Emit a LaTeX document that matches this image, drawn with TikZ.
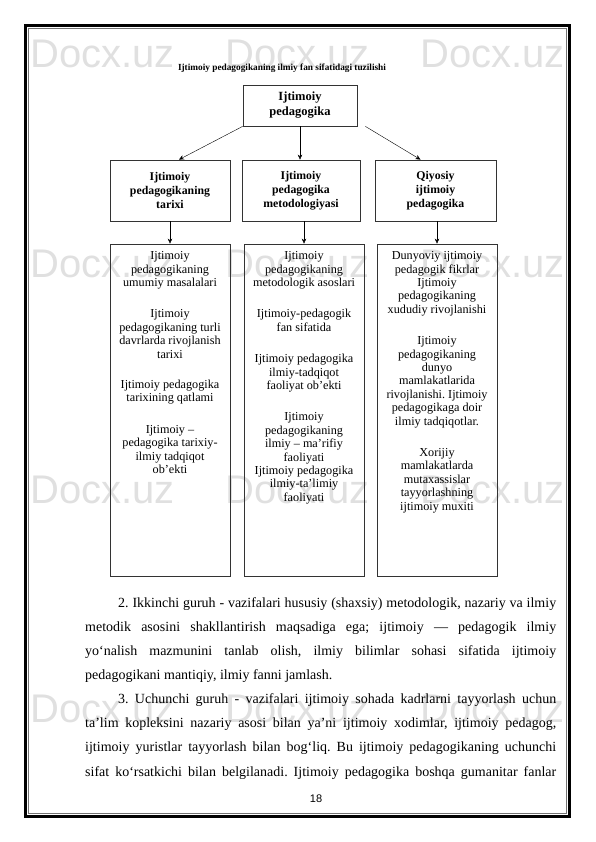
\documentclass[tikz,border=0pt]{standalone}
\usepackage{fontspec}
\setmainfont{Liberation Serif}
\newfontfamily\pagesans{Liberation Sans}
\usetikzlibrary{arrows.meta}
\frenchspacing

\tikzset{
  headbox/.style={draw=black!80,line width=0.8pt,inner sep=0pt,align=center,
    minimum width=120pt,minimum height=61pt,font=\bfseries\fontsize{11.8}{14}\selectfont},
  listbox/.style={draw=black!80,line width=0.8pt,inner sep=0pt,
    minimum width=120pt,minimum height=332pt},
  listtext/.style={anchor=north,inner sep=0pt,align=center,font=\fontsize{12.2}{13.4}\selectfont},
  wmark/.style={anchor=base west,inner sep=0pt,text=black!12,font=\pagesans\fontsize{40}{40}\selectfont},
  textline/.style={anchor=base west,inner sep=0pt,font=\fontsize{14}{17}\selectfont}
}

\begin{document}
\begin{tikzpicture}[x=1pt,y=-1pt,>={Stealth[length=5pt,width=4.5pt]}]
  \useasboundingbox (0,0) rectangle (595,842);
  \foreach \wy in {68,277,503,722}
    \foreach \wx in {30,225,420}
      \node[wmark] (wm-\wx-\wy) at (\wx,\wy) {Docx.uz};
  \draw[line width=3.2pt] (25.5,25.5) rectangle (569.5,816.5);
  \draw[black!55,line width=0.9pt] (28.3,28.3) rectangle (566.5,813.8);

  \node[font=\bfseries\fontsize{9.3}{11}\selectfont] (title) at (282,68) {Ijtimoiy pedagogikaning ilmiy fan sifatidagi tuzilishi};
  \node[headbox,minimum width=114pt,minimum height=41pt,font=\bfseries\fontsize{12.5}{15}\selectfont] (top) at (300,105.5) {Ijtimoiy\\pedagogika};

  \node[headbox] (tarix) at (170,190.5) {Ijtimoiy\\pedagogikaning\\tarixi};
  \node[headbox,minimum width=118pt] (metod) at (301,190.5) {Ijtimoiy\\pedagogika\\metodologiyasi};
  \node[headbox,minimum width=121pt] (qiyos) at (435.5,190.5) {Qiyosiy\\ijtimoiy\\pedagogika};

  \draw[->] (top.south west) -- ([xshift=9pt]tarix.north);
  \draw[->] (top.south) -- (top.south |- metod.north);
  \draw[->] ([xshift=8pt]top.south east) -- ([xshift=-15pt]qiyos.north);

  \node[listbox] (tarixlist) at (170,410) {};
  \node[listbox] (metodlist) at (304,410) {};
  \node[listbox] (qiyoslist) at (437,410) {};

  \draw[->] (tarixlist.north |- tarix.south) -- (tarixlist.north);
  \draw[->] (metodlist.north |- metod.south) -- (metodlist.north);
  \draw[->] (qiyoslist.north |- qiyos.south) -- (qiyoslist.north);

  \node[listtext] (tarixtext) at (170,251.5) {Ijtimoiy\\pedagogikaning\\umumiy masalalari\\[18pt]
    Ijtimoiy\\pedagogikaning turli\\davrlarda rivojlanish\\tarixi\\[17pt]
    Ijtimoiy pedagogika\\tarixining qatlami\\[18pt]
    Ijtimoiy –\\pedagogika tarixiy-\\ilmiy tadqiqot\\ob’ekti};
  \node[listtext] (metodtext) at (304,251.5) {Ijtimoiy\\pedagogikaning\\metodologik asoslari\\[18pt]
    Ijtimoiy-pedagogik\\fan sifatida\\[18pt]
    Ijtimoiy pedagogika\\ilmiy-tadqiqot\\faoliyat ob’ekti\\[18pt]
    Ijtimoiy\\pedagogikaning\\ilmiy – ma’rifiy\\faoliyati\\
    Ijtimoiy pedagogika\\ilmiy-ta’limiy\\faoliyati};
  \node[listtext] (qiyostext) at (437,251.5) {Dunyoviy ijtimoiy\\pedagogik fikrlar\\Ijtimoiy\\pedagogikaning\\xududiy rivojlanishi\\[18pt]
    Ijtimoiy\\pedagogikaning\\dunyo\\mamlakatlarida\\rivojlanishi. Ijtimoiy\\pedagogikaga doir\\ilmiy tadqiqotlar.\\[18pt]
    Xorijiy\\mamlakatlarda\\mutaxassislar\\tayyorlashning\\ijtimoiy muxiti};

  \node[textline] (l1) at (118,607) {\makebox[438pt][s]{2. Ikkinchi guruh - vazifalari hususiy (shaxsiy) metodologik, nazariy va ilmiy}};
  \node[textline] (l2) at (85,631.15) {\makebox[471pt][s]{metodik asosini shakllantirish maqsadiga ega; ijtimoiy — pedagogik ilmiy}};
  \node[textline] (l3) at (85,655.3) {\makebox[471pt][s]{yo‘nalish mazmunini tanlab olish, ilmiy bilimlar sohasi sifatida ijtimoiy}};
  \node[textline] (l4) at (85,679.45) {pedagogikani mantiqiy, ilmiy fanni jamlash.};
  \node[textline] (l5) at (118,703.6) {\makebox[438pt][s]{3. Uchunchi guruh - vazifalari ijtimoiy sohada kadrlarni tayyorlash uchun}};
  \node[textline] (l6) at (85,727.75) {\makebox[471pt][s]{ta’lim kopleksini nazariy asosi bilan ya’ni ijtimoiy xodimlar, ijtimoiy pedagog,}};
  \node[textline] (l7) at (85,751.9) {\makebox[471pt][s]{ijtimoiy yuristlar tayyorlash bilan bog‘liq. Bu ijtimoiy pedagogikaning uchunchi}};
  \node[textline] (l8) at (85,776.05) {\makebox[471pt][s]{sifat ko‘rsatkichi bilan belgilanadi. Ijtimoiy pedagogika boshqa gumanitar fanlar}};
  \node[anchor=base,inner sep=0pt,font=\pagesans\fontsize{11}{13}\selectfont] (pnum) at (316,802) {18};
\end{tikzpicture}
\end{document}
